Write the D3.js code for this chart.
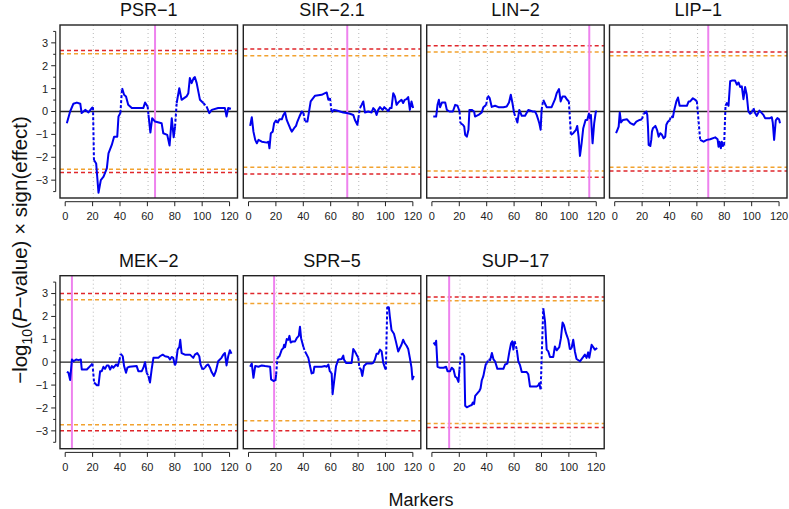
<!DOCTYPE html>
<html>
<head>
<meta charset="utf-8">
<script src="https://cdn.jsdelivr.net/npm/d3@7/dist/d3.min.js"></script>
<style>
  html, body { margin: 0; padding: 0; background: #fff; }
  svg { display: block; font-family: "Liberation Sans", Arial, Helvetica, sans-serif; }
</style>
</head>
<body>
<svg id="chart" width="789" height="509"></svg>
<script>
// ---------------- data ----------------
const panelNames = ["PSR\u22121", "SIR\u22122.1", "LIN\u22122", "LIP\u22121", "MEK\u22122", "SPR\u22125", "SUP\u221217"];

const psr1M = [1.2,3.6,6,8.5,11,12,14.6,17,19.4,20.3,21,22.6,24.3,26,28,30.4,31.6,34,35.7,38,38.9,40.3,41.5,43,44.4,46,48.6,57,58.3,60.2,60.8,62.2,63.5,65.6,70.4,71.6,74.5,76.2,77.8,79.2,80.2,81.4,83.3,85,88.6,89.9,91,92.3,93.8,94.7,96,98.4,100.8,103.2,105.2,107,111.7,116.6,117.8,119,121];
const psr1V = [-0.51,0,0.34,0.39,0.34,-0.07,0.07,-0.04,0.15,0.19,-2.12,-2.27,-3.55,-3.0,-2.85,-2.49,-1.83,-1.46,-1.1,-1.1,-0.22,-0.07,1.02,0.73,0.66,0.29,0.15,0.15,0.39,0.22,-0.15,-0.92,-0.29,-0.44,-0.51,-0.95,-1.02,-1.49,-0.29,-1.13,-0.66,0.37,1.02,0.51,0.66,0.8,1.46,1.24,1.46,1.5,1.24,0.51,0.37,0.22,-0.07,0.07,0.15,0.15,-0.22,0.15,0.12];

const sir21M = [1.2,2.4,3.6,4.9,6.1,7.3,9.7,13.4,14.6,15.3,16.3,17.7,18.7,20.2,21.1,22.6,24.3,25.5,26.7,27.9,29.1,30.4,31.6,33.3,34.7,35.7,37.2,38.9,40.1,41.3,43,44.4,45.4,48.6,53.4,55.9,57.1,58.3,59.5,60.7,62.4,64.4,69.2,71.7,74.1,76.5,77.7,79.5,80.2,81.4,82.6,83.8,85,87.4,89.9,91.1,92.3,93.5,94.7,96,97.9,99.1,100.8,102,103.2,104.4,105.7,106.9,108.1,109.3,111.7,112.9,114.1,115.4,116.6,117.8,119,120.2];
const sir21V = [-0.63,-0.25,-0.88,-1.24,-1.39,-1.24,-1.32,-1.36,-1.32,-1.61,-0.95,-0.88,-0.51,-0.37,-0.51,-0.34,-0.34,-0.15,-0.04,-0.37,-0.54,-0.73,-0.88,-0.73,-0.63,-0.44,-0.22,0,-0.07,-0.44,-0.44,0.07,0.44,0.69,0.73,0.8,0.83,0.51,0.58,-0.04,0.07,0.04,-0.04,-0.07,-0.1,-0.15,-0.37,-0.58,-0.29,0.15,0.29,0.44,-0.04,0,-0.04,0.15,0.07,-0.15,0.07,0.19,0.07,0.19,0.1,0,0.15,0.15,0.8,0.66,0.29,0.39,0.51,0.37,0.51,0.54,0.63,0.07,0.44,0.15];

const lin2M = [1,3.1,4.1,5.1,6,7.3,9.7,10.9,12.8,15.3,17,18.7,20.2,20.8,22.6,23.6,24.3,25.5,26.7,27.4,29.1,30.8,31.5,34,36.4,37.6,39.6,40.8,42.2,43.7,46.1,48.6,52.2,54.6,56.3,57.6,58.8,60,61.4,62.4,63.8,65.6,68,70.4,73.6,75.3,76.5,77.7,78.4,79.4,80.1,81.3,82.6,83.8,87.4,89.9,91.1,92.8,94,95.4,97.1,98.8,100,101.5,103.2,105.2,106.1,107.1,108.1,109.3,110.5,112.2,113.4,114.6,115.3,116.1,117.3,118.5,119.7,120.5];
const lin2V = [-0.22,-0.22,0.29,0.51,0.19,0.39,0.39,0.07,0,0,0.29,0.25,0,-0.51,-0.58,-0.66,-1.02,-1.1,-0.8,0.07,0.07,0,-0.22,-0.15,-0.04,0.19,0.29,0.69,0.58,0.2,0.25,0.19,0.19,0.22,0.39,0.73,0.37,-0.07,-0.29,-0.48,0.07,-0.19,-0.19,0.07,0,0,-0.15,-0.37,-0.51,-0.8,0.07,0.51,0.34,0.19,0.19,0.54,0.8,0.98,0.44,0.66,0.66,0.51,0.44,-1.02,-0.95,-0.8,-0.63,-1.1,-1.94,-1.39,-0.73,-0.37,-0.37,-0.1,-0.29,-0.15,-1.39,-0.51,0,0];

const lip1M = [1,2.2,2.9,3.7,4.6,6.1,9,11.4,13.9,15.8,18.2,19.9,21.1,23.1,23.8,24.3,24.8,26,26.7,27.2,27.9,29.7,30.9,32.1,33.3,34.5,35.7,36.9,37.7,38.9,40.1,41.1,42.5,43.5,45,46.2,47.4,52.7,54,55.1,57.1,58.8,60,62.4,64.9,67.3,69.7,73.4,75.1,75.8,76.5,77.5,78.2,78.9,79.9,80.9,81.9,83.1,84.3,85.5,87.9,89.2,90.4,91.6,92.8,94,95.2,96.4,97.6,98.9,100.1,101.3,102.5,103.7,105.7,107.4,108.6,109.8,113.4,114.7,115.4,116.4,117.6,118.8,120,120.7];
const lip1V = [-0.95,-0.77,-0.66,-0.04,-0.48,-0.37,-0.34,-0.51,-0.58,-0.44,-0.37,-0.34,-0.1,0,-0.15,-0.66,-1.46,-1.51,-1.24,-0.88,-0.73,-0.63,-0.8,-1.1,-0.95,-1.02,-1.17,-1.1,-0.58,-0.44,-0.39,-0.22,-0.25,0.07,0.44,0.61,0.25,0.25,0.44,0.44,0.58,0.51,0.44,-1.24,-1.32,-1.24,-1.21,-1.13,-1.21,-1.54,-1.32,-1.61,-1.32,-1.51,-1.46,0.25,0.37,0.25,1.32,1.35,1.35,1.17,1.27,1.07,1.1,0.54,1.07,0.73,0,-0.1,-0.04,0.15,-0.07,-0.19,0.04,-0.07,-0.15,-0.29,-0.29,-0.25,-0.48,-1.24,-0.39,-0.29,-0.34,-0.51];

const mek2M = [1.2,2.4,3.6,4.9,6.1,8,9.7,11.4,12.1,15.8,18.2,19.9,21.1,23.1,24.3,25.5,26.7,27.9,29.1,30.4,31.6,32.8,34,35.2,37.2,38.4,39.6,40.6,42,43,44.4,45.4,46.9,52.2,53.4,55.9,57.1,58.3,59.5,60.7,61.9,63.1,64.4,68,69.2,71.2,72.9,75.3,76.5,77.7,78.9,80.1,80.9,82.1,83.3,84,85,87.4,91.1,93.5,94.7,96.4,97.9,98.8,100.3,102,103.2,104.4,105.7,106.9,108.6,110,111.7,114.1,115.4,116.6,117.8,119,120.2,121.4];
const mek2V = [-0.42,-0.46,-0.78,0.12,0.04,0.12,0.09,0.12,-0.32,-0.32,-0.17,-0.06,-0.89,-1.01,-1.01,-0.39,-0.39,-0.2,-0.29,-0.14,-0.14,-0.32,-0.17,-0.24,-0.1,-0.17,0.09,0.37,0.26,-0.17,-0.46,-0.24,-0.2,-0.17,-0.39,-0.39,-0.24,0,-0.46,-0.6,-0.89,-0.32,0.19,0.19,0.26,0.33,0.26,0.23,0.12,0.23,0.19,-0.14,-0.03,0.55,0.66,0.98,0.4,0.33,0.33,0.19,0.33,0.4,0.26,-0.1,-0.32,-0.24,-0.14,-0.1,-0.24,-0.43,-0.6,-0.39,0.04,0.19,0.33,0.4,-0.14,0.26,0.52,0.37];

const spr5M = [1.2,2.4,3.6,4.9,7.3,9.7,12.1,15.8,16.5,18.2,19.7,20.2,21.1,22.6,24.3,25.5,26,26.7,27.9,29.1,29.9,30.8,32.3,34,35.2,36.7,37.6,38.4,40.1,41.3,42.5,43.7,44.9,46.1,47.4,48.1,53.4,55.9,57.1,58.3,59.5,60.7,61.4,62.4,63.9,65.6,68,69.2,69.7,71.2,75.3,76.5,77.7,78.9,80.2,80.9,82.1,83.1,84.3,86.2,89.9,91.1,92.3,93.5,94.7,96,97.2,98.4,99.6,100.3,101.3,102.5,103.2,104.4,106.2,107.6,109.3,110.5,111.7,112.9,114.1,115.4,116.6,117.8,119,119.7,120.7];
const spr5V = [-0.2,-0.06,-0.68,-0.17,-0.2,-0.14,-0.17,-0.2,-0.75,-0.82,-0.78,-0.53,0.19,0.26,0.55,0.62,0.76,0.66,1.01,0.98,1.15,0.86,0.91,0.91,1.05,1.15,1.55,1.05,0.66,0.47,0.33,0.19,-0.17,-0.49,-0.46,-0.2,-0.2,-0.17,-0.2,-0.1,-0.43,-0.46,-1.4,-0.89,-0.17,0.12,0.14,0.29,0.12,-0.03,-0.03,0.58,0.47,0.33,0.19,-0.24,-0.32,-0.6,-0.17,-0.06,-0.06,-0.03,0.12,0.37,0.37,0.55,0.47,-0.03,-0.24,-0.32,2.42,2.39,1.99,1.41,1.24,0.91,0.47,0.62,0.76,0.98,0.83,0.72,0.58,0.19,-0.24,-0.75,-0.6];

const sup17M = [1.2,2.4,3.1,4.1,5.6,8.5,10.4,11.4,13.3,14.5,15.8,17,18.2,19.4,20.1,21.1,22.6,23.6,24.3,25.5,27.9,29.1,29.9,30.8,31.6,33.3,34.7,35.5,36.4,37.6,38.4,39.3,40,41.3,42.5,43.8,45,46.1,47.8,52.2,53.4,55.1,56.6,57.8,58.7,59.5,60.4,62,63.1,64.4,65.6,69.2,70.4,71.6,76.5,77.7,78.4,79.4,81.3,82.6,83.8,85,86.2,88.6,89.8,91.1,93,94.2,95.4,96.4,97.9,99.6,100.8,102,103.2,104.4,105.6,108.1,110.5,111.7,112.9,114.1,114.9,116.6,119,120.7];
const sup17V = [0.86,0.76,0.94,-0.2,-0.24,-0.24,-0.2,-0.39,-0.39,-0.24,-0.32,-0.63,-0.68,-0.86,-0.32,0.33,0.37,0.26,-1.9,-1.97,-1.9,-1.87,-1.76,-1.83,-1.47,-1.35,-1.25,-1.15,-0.8,-0.6,-0.35,-0.1,-0.05,0.12,0.09,0.4,0.12,0.04,-0.29,-0.29,-0.1,-0.06,0.47,0.83,0.91,0.55,0.91,0.55,0.04,-0.14,-0.43,-0.43,-0.53,-1.06,-1.06,-1.01,-0.92,-1.18,2.35,1.77,0.55,0.47,0.23,0.23,0.69,0.52,0.66,1.05,1.73,1.63,1.27,0.98,0.55,0.62,0.98,0.47,0.14,0.04,0.23,0.33,0.19,0.43,0.19,0.76,0.55,0.62];

const seriesM = [psr1M, sir21M, lin2M, lip1M, mek2M, spr5M, sup17M];
const seriesV = [psr1V, sir21V, lin2V, lip1V, mek2V, spr5V, sup17V];

const redThresh    = [2.67, 2.73, 2.87, 2.60, 3.00, 3.00, 2.85];
const orangeThresh = [2.52, 2.44, 2.60, 2.44, 2.73, 2.56, 2.68];
const peakMarker   = [65.6, 72.1, 114.9, 68.3, 4.9, 18.7, 12.6];
const chromBounds  = [20.5, 40.5, 60.5, 80.5, 101];

const xTicks = [0, 20, 40, 60, 80, 100, 120];
const yTicksMajor = [-3, -2, -1, 0, 1, 2, 3];
const yTicksMinor = [-3.5, -2.5, -1.5, -0.5, 0.5, 1.5, 2.5, 3.5];

// ---------------- layout ----------------
const svg = d3.select("#chart");
const colX = [60, 243.3, 426.7, 609.5];
const rowY = [25, 275.7];
const boxW = 177.5, boxH = 173;
const panelPos = [[0,0],[1,0],[2,0],[3,0],[0,1],[1,1],[2,1]];

const x = d3.scaleLinear().domain([-3.8, 125.8]).range([0, boxW]);
const y = d3.scaleLinear().domain([-3.78, 3.78]).range([boxH, 0]);

panelNames.forEach((name, i) => {
  const [c, r] = panelPos[i];
  const g = svg.append("g").attr("transform", `translate(${colX[c]},${rowY[r]})`);

  // chromosome boundary grid lines
  g.selectAll("line.grid").data(chromBounds).enter().append("line")
    .attr("x1", d => x(d)).attr("x2", d => x(d))
    .attr("y1", 0).attr("y2", boxH)
    .attr("stroke", "#b8b8b8").attr("stroke-width", 1)
    .attr("stroke-dasharray", "1,3");

  // thresholds
  const th = [
    {v: redThresh[i], c: "#e0262b"}, {v: -redThresh[i], c: "#e0262b"},
    {v: orangeThresh[i], c: "#f2a22f"}, {v: -orangeThresh[i], c: "#f2a22f"}
  ];
  g.selectAll("line.th").data(th).enter().append("line")
    .attr("x1", 0).attr("x2", boxW)
    .attr("y1", d => y(d.v)).attr("y2", d => y(d.v))
    .attr("stroke", d => d.c).attr("stroke-width", 1.5)
    .attr("stroke-dasharray", "4,3");

  // zero line
  g.append("line").attr("x1", 0).attr("x2", boxW)
    .attr("y1", y(0)).attr("y2", y(0))
    .attr("stroke", "#222").attr("stroke-width", 1.3);

  // peak marker
  g.append("line").attr("x1", x(peakMarker[i])).attr("x2", x(peakMarker[i]))
    .attr("y1", 0).attr("y2", boxH)
    .attr("stroke", "#ee82ee").attr("stroke-width", 2);

  // data line: solid within chromosomes, dashed across boundaries
  const pts = seriesM[i].map((m, k) => ({m, v: seriesV[i][k]}));
  const chrom = m => chromBounds.filter(b => m > b).length;
  const line = d3.line().x(d => x(d.m)).y(d => y(d.v));
  const groups = d3.groups(pts, d => chrom(d.m));
  groups.forEach(([, arr]) => {
    g.append("path").attr("d", line(arr))
      .attr("fill", "none").attr("stroke", "#0000ee")
      .attr("stroke-width", 2).attr("stroke-linejoin", "round");
  });
  for (let k = 0; k < pts.length - 1; k++) {
    if (chrom(pts[k].m) !== chrom(pts[k+1].m)) {
      g.append("path").attr("d", line([pts[k], pts[k+1]]))
        .attr("fill", "none").attr("stroke", "#0000ee")
        .attr("stroke-width", 2).attr("stroke-dasharray", "3,2");
    }
  }

  // box
  g.append("rect").attr("x", 0).attr("y", 0).attr("width", boxW).attr("height", boxH)
    .attr("fill", "none").attr("stroke", "#222").attr("stroke-width", 1.4);

  // title
  g.append("text").attr("x", boxW / 2).attr("y", -9)
    .attr("text-anchor", "middle").attr("font-size", 18).attr("fill", "#111")
    .text(name);

  // x axis
  const xa = g.append("g").attr("transform", `translate(0,${boxH + 3.7})`);
  xa.append("line").attr("x1", x(0)).attr("x2", x(120)).attr("stroke", "#222").attr("stroke-width", 1);
  xa.selectAll("line.t").data(xTicks).enter().append("line")
    .attr("x1", d => x(d)).attr("x2", d => x(d)).attr("y1", 0).attr("y2", 4.5)
    .attr("stroke", "#222").attr("stroke-width", 1);
  xa.selectAll("text").data(xTicks).enter().append("text")
    .attr("x", d => x(d)).attr("y", 18.3).attr("text-anchor", "middle")
    .attr("font-size", 11).attr("fill", "#222").text(d => d);

  // y axis only for first column
  if (c === 0) {
    const ya = g.append("g").attr("transform", "translate(-4.3,0)");
    ya.append("line").attr("y1", y(-3.5)).attr("y2", y(3.5)).attr("stroke", "#222").attr("stroke-width", 1);
    ya.selectAll("line.M").data(yTicksMajor).enter().append("line")
      .attr("x1", -4.5).attr("x2", 0).attr("y1", d => y(d)).attr("y2", d => y(d))
      .attr("stroke", "#222").attr("stroke-width", 1);
    ya.selectAll("line.m").data(yTicksMinor).enter().append("line")
      .attr("x1", -2.5).attr("x2", 0).attr("y1", d => y(d)).attr("y2", d => y(d))
      .attr("stroke", "#222").attr("stroke-width", 1);
    ya.selectAll("text").data(yTicksMajor).enter().append("text")
      .attr("x", -7.5).attr("y", d => y(d)).attr("dy", "0.36em")
      .attr("text-anchor", "end").attr("font-size", 11).attr("fill", "#222")
      .text(d => d < 0 ? "\u2212" + Math.abs(d) : d);
  }
});

// x label
svg.append("text").attr("x", 421).attr("y", 506).attr("text-anchor", "middle")
  .attr("font-size", 18).attr("fill", "#111").text("Markers");

// y label
const yl = svg.append("text").attr("transform", "translate(27,250) rotate(-90)")
  .attr("text-anchor", "middle").attr("font-size", 20.5).attr("fill", "#111");
yl.append("tspan").text("\u2212log");
yl.append("tspan").attr("font-size", 14).attr("dy", 5).text("10");
yl.append("tspan").attr("dy", -5).text("(");
yl.append("tspan").attr("font-style", "italic").text("P");
yl.append("tspan").text("\u2212value) \u00d7 sign(effect)");
</script>
</body>
</html>
